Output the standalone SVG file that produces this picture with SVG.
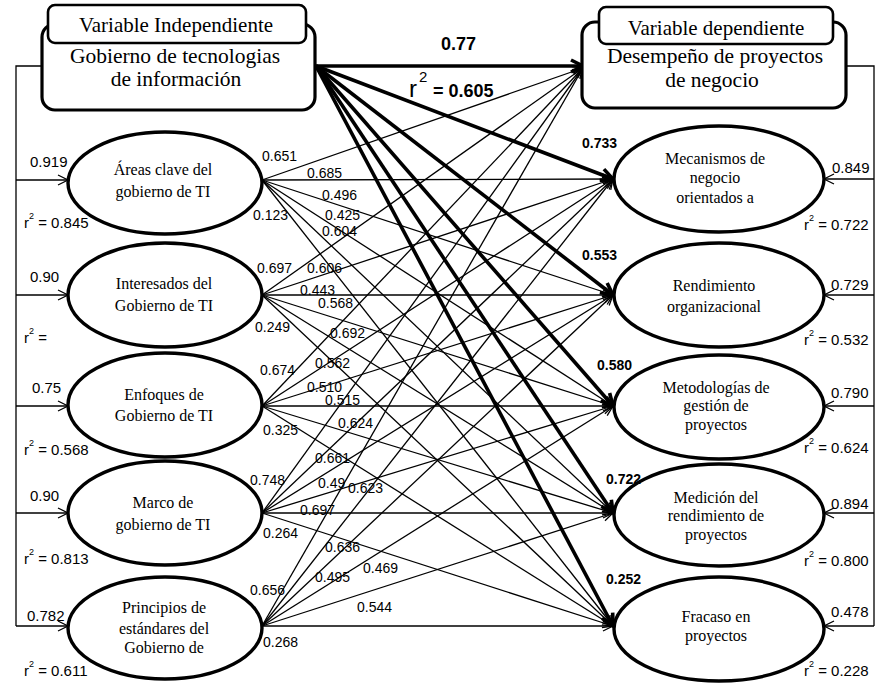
<svg xmlns="http://www.w3.org/2000/svg" width="888" height="684" viewBox="0 0 888 684">
<style>
  .bg{fill:#fff}
  .box{fill:#fff;stroke:#000;stroke-width:3.2}
  .lbox{fill:#fff;stroke:#000;stroke-width:2.6}
  .ell{fill:#fff;stroke:#000;stroke-width:3.4}
  .thin{stroke:#000;stroke-width:1.3;fill:none;marker-end:url(#ah)}
  .thick{stroke:#000;stroke-width:3.6;fill:none;marker-end:url(#ahb)}
  .wire{stroke:#000;stroke-width:1.3;fill:none}
  .ht{font-family:"Liberation Serif","Times New Roman",serif;font-size:21px;text-anchor:middle;fill:#000}
  .hb{font-family:"Liberation Serif","Times New Roman",serif;font-size:21.5px;text-anchor:middle;fill:#000}
  .et{font-family:"Liberation Serif","Times New Roman",serif;font-size:16px;text-anchor:middle;fill:#000}
  .pl{font-family:"Liberation Sans",Arial,sans-serif;font-size:14px;fill:#000}
  .sl{font-family:"Liberation Sans",Arial,sans-serif;font-size:15px;fill:#000}
  .bl{font-family:"Liberation Sans",Arial,sans-serif;font-size:14px;font-weight:bold;fill:#000}
  .big{font-family:"Liberation Sans",Arial,sans-serif;font-size:18px;font-weight:bold;fill:#000}
</style>
<defs>
  <marker id="ah" markerUnits="userSpaceOnUse" markerWidth="12" markerHeight="12" refX="11" refY="6" orient="auto" overflow="visible">
    <path d="M1,1 L11,6 L1,11" fill="none" stroke="#000" stroke-width="1.3"/>
  </marker>
  <marker id="ahb" markerUnits="userSpaceOnUse" markerWidth="16" markerHeight="16" refX="14" refY="8" orient="auto" overflow="visible">
    <path d="M2,2 L14,8 L2,14" fill="none" stroke="#000" stroke-width="3.6" stroke-linejoin="miter"/>
  </marker>
</defs>
<rect class="bg" x="0" y="0" width="888" height="684"/>

<g id="connectors">
  <path class="wire" d="M43,66 H16 V626"/>
  <line class="thin" x1="16" y1="180" x2="68" y2="180"/>
  <line class="thin" x1="16" y1="295" x2="68" y2="295"/>
  <line class="thin" x1="16" y1="406" x2="68" y2="406"/>
  <line class="thin" x1="16" y1="513" x2="68" y2="513"/>
  <line class="thin" x1="16" y1="626" x2="68" y2="626"/>
  <path class="wire" d="M846,66 H874 V626"/>
  <line class="thin" x1="874" y1="179" x2="824" y2="179"/>
  <line class="thin" x1="874" y1="295" x2="824" y2="295"/>
  <line class="thin" x1="874" y1="406" x2="824" y2="406"/>
  <line class="thin" x1="874" y1="513" x2="824" y2="513"/>
  <line class="thin" x1="874" y1="626" x2="824" y2="626"/>
  <g>
    <line class="thin" x1="262" y1="180" x2="583" y2="68"/>
    <line class="thin" x1="262" y1="180" x2="613" y2="179"/>
    <line class="thin" x1="262" y1="180" x2="613" y2="295"/>
    <line class="thin" x1="262" y1="180" x2="613" y2="406"/>
    <line class="thin" x1="262" y1="180" x2="613" y2="513"/>
    <line class="thin" x1="262" y1="180" x2="613" y2="626"/>
  </g>
  <g>
    <line class="thin" x1="262" y1="295" x2="583" y2="68"/>
    <line class="thin" x1="262" y1="295" x2="613" y2="179"/>
    <line class="thin" x1="262" y1="295" x2="613" y2="295"/>
    <line class="thin" x1="262" y1="295" x2="613" y2="406"/>
    <line class="thin" x1="262" y1="295" x2="613" y2="513"/>
    <line class="thin" x1="262" y1="295" x2="613" y2="626"/>
  </g>
  <g>
    <line class="thin" x1="262" y1="406" x2="583" y2="68"/>
    <line class="thin" x1="262" y1="406" x2="613" y2="179"/>
    <line class="thin" x1="262" y1="406" x2="613" y2="295"/>
    <line class="thin" x1="262" y1="406" x2="613" y2="406"/>
    <line class="thin" x1="262" y1="406" x2="613" y2="513"/>
    <line class="thin" x1="262" y1="406" x2="613" y2="626"/>
  </g>
  <g>
    <line class="thin" x1="262" y1="513" x2="583" y2="68"/>
    <line class="thin" x1="262" y1="513" x2="613" y2="179"/>
    <line class="thin" x1="262" y1="513" x2="613" y2="295"/>
    <line class="thin" x1="262" y1="513" x2="613" y2="406"/>
    <line class="thin" x1="262" y1="513" x2="613" y2="513"/>
    <line class="thin" x1="262" y1="513" x2="613" y2="626"/>
  </g>
  <g>
    <line class="thin" x1="262" y1="626" x2="583" y2="68"/>
    <line class="thin" x1="262" y1="626" x2="613" y2="179"/>
    <line class="thin" x1="262" y1="626" x2="613" y2="295"/>
    <line class="thin" x1="262" y1="626" x2="613" y2="406"/>
    <line class="thin" x1="262" y1="626" x2="613" y2="513"/>
    <line class="thin" x1="262" y1="626" x2="613" y2="626"/>
  </g>
  <line class="thick" x1="316" y1="66" x2="583" y2="66"/>
  <line class="thick" x1="316" y1="66" x2="613" y2="179"/>
  <line class="thick" x1="316" y1="66" x2="613" y2="295"/>
  <line class="thick" x1="316" y1="66" x2="613" y2="406"/>
  <line class="thick" x1="316" y1="66" x2="613" y2="513"/>
  <line class="thick" x1="316" y1="66" x2="613" y2="626"/>
</g>

<g id="vi">
  <rect class="box" x="42" y="24" width="273" height="86" rx="13"/>
  <rect class="lbox" x="48" y="5" width="258" height="38" rx="7"/>
  <text class="ht" x="176" y="32">Variable Independiente</text>
  <text class="hb" x="175" y="63">Gobierno de tecnologias</text>
  <text class="hb" x="176" y="86">de información</text>
</g>
<g id="vd">
  <rect class="box" x="582" y="22" width="264" height="86" rx="13"/>
  <rect class="lbox" x="599" y="7" width="234" height="37" rx="7"/>
  <text class="ht" x="716" y="35">Variable dependiente</text>
  <text class="hb" x="715" y="63">Desempeño de proyectos</text>
  <text class="hb" x="712" y="87">de negocio</text>
</g>

<g id="areas">
  <ellipse class="ell" cx="165" cy="183" rx="97" ry="51"/>
  <text class="et" x="163" y="175">Áreas clave del</text>
  <text class="et" x="163" y="197">gobierno de TI</text>
</g>
<g id="interesados">
  <ellipse class="ell" cx="165" cy="295" rx="97" ry="52"/>
  <text class="et" x="164" y="289">Interesados del</text>
  <text class="et" x="164" y="311">Gobierno de TI</text>
</g>
<g id="enfoques">
  <ellipse class="ell" cx="165" cy="405" rx="97" ry="52"/>
  <text class="et" x="164" y="400">Enfoques de</text>
  <text class="et" x="164" y="421">Gobierno de TI</text>
</g>
<g id="marco">
  <ellipse class="ell" cx="165" cy="513" rx="97" ry="52"/>
  <text class="et" x="163" y="508">Marco de</text>
  <text class="et" x="163" y="530">gobierno de TI</text>
</g>
<g id="principios">
  <ellipse class="ell" cx="165" cy="628" rx="97" ry="51"/>
  <text class="et" x="164" y="613">Principios de</text>
  <text class="et" x="164" y="634">estándares del</text>
  <text class="et" x="164" y="653">Gobierno de</text>
</g>

<g id="mecanismos">
  <ellipse class="ell" cx="719" cy="179" rx="105" ry="53"/>
  <text class="et" x="715" y="164">Mecanismos de</text>
  <text class="et" x="715" y="183">negocio</text>
  <text class="et" x="715" y="203">orientados a</text>
</g>
<g id="rendimiento">
  <ellipse class="ell" cx="719" cy="295" rx="105" ry="52"/>
  <text class="et" x="714" y="291">Rendimiento</text>
  <text class="et" x="714" y="312">organizacional</text>
</g>
<g id="metodologias">
  <ellipse class="ell" cx="719" cy="407" rx="105" ry="52"/>
  <text class="et" x="716" y="393">Metodologías de</text>
  <text class="et" x="716" y="411">gestión de</text>
  <text class="et" x="716" y="430">proyectos</text>
</g>
<g id="medicion">
  <ellipse class="ell" cx="719" cy="515" rx="105" ry="51"/>
  <text class="et" x="716" y="503">Medición del</text>
  <text class="et" x="716" y="521">rendimiento de</text>
  <text class="et" x="716" y="540">proyectos</text>
</g>
<g id="fracaso">
  <ellipse class="ell" cx="719" cy="629" rx="105" ry="52"/>
  <text class="et" x="716" y="622">Fracaso en</text>
  <text class="et" x="716" y="641">proyectos</text>
</g>

<g id="labels">
  <text class="big" x="441" y="50">0.77</text>
  <text class="big"><tspan x="409" y="97" font-size="24" font-weight="normal">r</tspan><tspan x="419" y="82" font-size="15" font-weight="normal">2</tspan><tspan x="433" y="97">= 0.605</tspan></text>

  <text class="bl" x="582" y="148">0.733</text>
  <text class="bl" x="582" y="260">0.553</text>
  <text class="bl" x="597" y="370">0.580</text>
  <text class="bl" x="606" y="484">0.722</text>
  <text class="bl" x="606" y="584">0.252</text>

  <text class="sl" x="30" y="167">0.919</text>
  <text class="sl" x="30" y="282">0.90</text>
  <text class="sl" x="32" y="393">0.75</text>
  <text class="sl" x="30" y="501">0.90</text>
  <text class="sl" x="27" y="621">0.782</text>
  <text class="sl" x="24" y="228">r<tspan dy="-9" font-size="9">2</tspan><tspan dy="9"> = 0.845</tspan></text>
  <text class="sl" x="24" y="343">r<tspan dy="-9" font-size="9">2</tspan><tspan dy="9"> =</tspan></text>
  <text class="sl" x="24" y="455">r<tspan dy="-9" font-size="9">2</tspan><tspan dy="9"> = 0.568</tspan></text>
  <text class="sl" x="24" y="564">r<tspan dy="-9" font-size="9">2</tspan><tspan dy="9"> = 0.813</tspan></text>
  <text class="sl" x="24" y="676">r<tspan dy="-9" font-size="9">2</tspan><tspan dy="9"> = 0.611</tspan></text>

  <text class="sl" x="832" y="173">0.849</text>
  <text class="sl" x="831" y="290">0.729</text>
  <text class="sl" x="831" y="398">0.790</text>
  <text class="sl" x="831" y="509">0.894</text>
  <text class="sl" x="831" y="617">0.478</text>
  <text class="sl" x="804" y="230">r<tspan dy="-9" font-size="9">2</tspan><tspan dy="9"> = 0.722</tspan></text>
  <text class="sl" x="804" y="345">r<tspan dy="-9" font-size="9">2</tspan><tspan dy="9"> = 0.532</tspan></text>
  <text class="sl" x="804" y="453">r<tspan dy="-9" font-size="9">2</tspan><tspan dy="9"> = 0.624</tspan></text>
  <text class="sl" x="804" y="566">r<tspan dy="-9" font-size="9">2</tspan><tspan dy="9"> = 0.800</tspan></text>
  <text class="sl" x="804" y="676">r<tspan dy="-9" font-size="9">2</tspan><tspan dy="9"> = 0.228</tspan></text>

  <text class="pl" x="262" y="161">0.651</text>
  <text class="pl" x="307" y="178">0.685</text>
  <text class="pl" x="322" y="200">0.496</text>
  <text class="pl" x="253" y="220">0.123</text>
  <text class="pl" x="325" y="220">0.425</text>
  <text class="pl" x="322" y="236">0.604</text>
  <text class="pl" x="257" y="273">0.697</text>
  <text class="pl" x="307" y="273">0.606</text>
  <text class="pl" x="300" y="295">0.443</text>
  <text class="pl" x="318" y="308">0.568</text>
  <text class="pl" x="255" y="332">0.249</text>
  <text class="pl" x="330" y="338">0.692</text>
  <text class="pl" x="260" y="375">0.674</text>
  <text class="pl" x="315" y="368">0.562</text>
  <text class="pl" x="307" y="392">0.510</text>
  <text class="pl" x="325" y="405">0.515</text>
  <text class="pl" x="263" y="435">0.325</text>
  <text class="pl" x="338" y="428">0.624</text>
  <text class="pl" x="315" y="463">0.661</text>
  <text class="pl" x="250" y="485">0.748</text>
  <text class="pl" x="318" y="488">0.49</text>
  <text class="pl" x="348" y="493">0.623</text>
  <text class="pl" x="300" y="515">0.697</text>
  <text class="pl" x="263" y="538">0.264</text>
  <text class="pl" x="325" y="552">0.636</text>
  <text class="pl" x="315" y="582">0.495</text>
  <text class="pl" x="363" y="573">0.469</text>
  <text class="pl" x="250" y="595">0.656</text>
  <text class="pl" x="357" y="612">0.544</text>
  <text class="pl" x="263" y="647">0.268</text>
</g>
</svg>
